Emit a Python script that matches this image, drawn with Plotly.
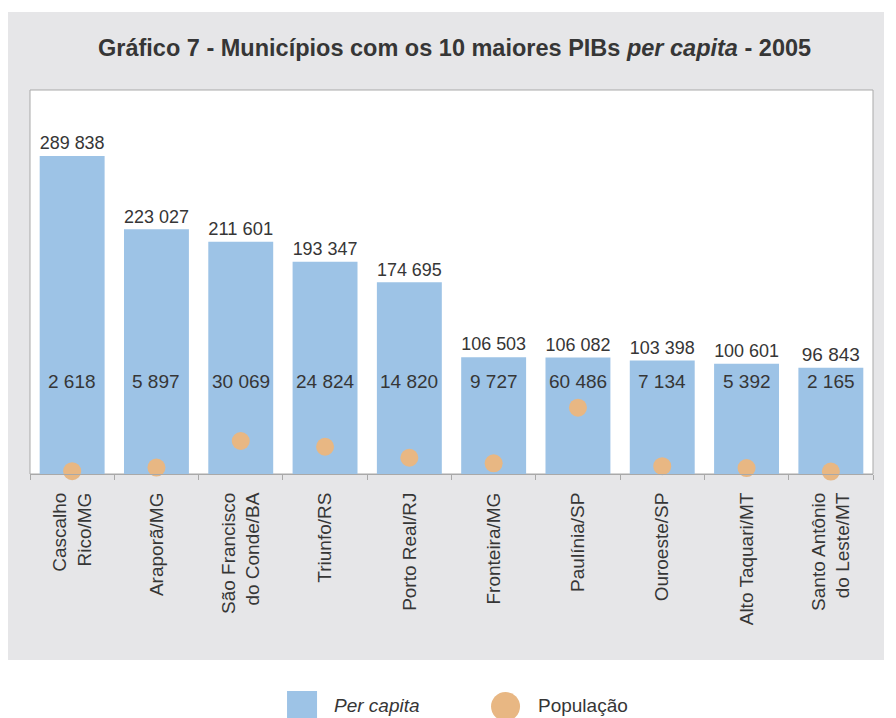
import plotly.graph_objects as go

municipios = ["Cascalho<br>Rico/MG", "Araporã/MG", "São Francisco<br>do Conde/BA", "Triunfo/RS",
              "Porto Real/RJ", "Fronteira/MG", "Paulínia/SP", "Ouroeste/SP",
              "Alto Taquari/MT", "Santo Antônio<br>do Leste/MT"]
per_capita = [289838, 223027, 211601, 193347, 174695, 106503, 106082, 103398, 100601, 96843]
populacao = [2618, 5897, 30069, 24824, 14820, 9727, 60486, 7134, 5392, 2165]

def fmt(v):
    return f"{v:,}".replace(",", " ")

BLUE = "#9dc3e6"
ORANGE = "#e8b783"
PANEL = "#e6e6e8"
TXT = "#363636"
FONT = "Liberation Sans, Arial, sans-serif"

fig = go.Figure()
fig.add_trace(go.Bar(
    x=municipios, y=per_capita, name="Per capita",
    marker=dict(color=BLUE, line=dict(width=0)),
    text=[fmt(v) for v in per_capita], textposition="outside",
    textfont=dict(size=19, color=TXT, family=FONT), cliponaxis=False,
))
fig.add_trace(go.Scatter(
    x=municipios, y=populacao, name="População", mode="markers",
    marker=dict(color=ORANGE, size=18, line=dict(width=0)), cliponaxis=False,
))

annotations = []
for m, p in zip(municipios, populacao):
    annotations.append(dict(x=m, y=0.242, xref="x", yref="paper", yanchor="middle", text=fmt(p),
                            showarrow=False, font=dict(size=19, color=TXT, family=FONT)))
annotations.append(dict(x=0.504, y=1.109, xref="paper", yref="paper", yanchor="middle",
                        text="<b>Gráfico 7 - Municípios com os 10 maiores PIBs <i>per capita</i> - 2005</b>",
                        showarrow=False, font=dict(size=23.5, color=TXT, family=FONT)))
annotations.append(dict(x=0.3582, y=-0.6016, xref="paper", yref="paper", xanchor="left",
                        yanchor="middle", text="<i>Per capita</i>", showarrow=False,
                        font=dict(size=19, color=TXT, family=FONT)))
annotations.append(dict(x=0.6002, y=-0.6016, xref="paper", yref="paper", xanchor="left",
                        yanchor="middle", text="População", showarrow=False,
                        font=dict(size=19, color=TXT, family=FONT)))

shapes = [
    dict(type="rect", xref="paper", yref="paper", x0=-0.02847, x1=1.01305, y0=-0.4844, y1=1.2031,
         fillcolor=PANEL, line=dict(width=0), layer="below"),
    dict(type="rect", xref="paper", yref="paper", x0=0, x1=1, y0=0, y1=1,
         fillcolor="white", line=dict(color="#a9a9a9", width=1), layer="below"),
    dict(type="rect", xref="paper", yref="paper", x0=0.3049, x1=0.3405, y0=-0.5651, y1=-0.645,
         fillcolor=BLUE, line=dict(width=0)),
    dict(type="circle", xref="paper", yref="paper", x0=0.5469, x1=0.5813, y0=-0.5677, y1=-0.6432,
         fillcolor=ORANGE, line=dict(width=0)),
]

fig.update_layout(
    width=888, height=710,
    margin=dict(l=22, r=23, t=82, b=244),
    paper_bgcolor="white", plot_bgcolor="rgba(0,0,0,0)",
    showlegend=False, bargap=0.23,
    font=dict(family=FONT, color=TXT, size=19),
    annotations=annotations, shapes=shapes,
)
fig.update_xaxes(range=[-0.5, len(municipios) - 0.5], autorange=False,
                 showline=True, linecolor="#a9a9a9", linewidth=1, ticks="outside",
                 tickson="boundaries", ticklen=5, tickcolor="#a9a9a9", tickangle=-90,
                 ticklabelstandoff=10,
                 tickfont=dict(size=19, color=TXT, family=FONT), showgrid=False, zeroline=False)
fig.update_yaxes(range=[0, 350000], visible=False, showgrid=False, zeroline=False)

fig.write_html("out.html")
